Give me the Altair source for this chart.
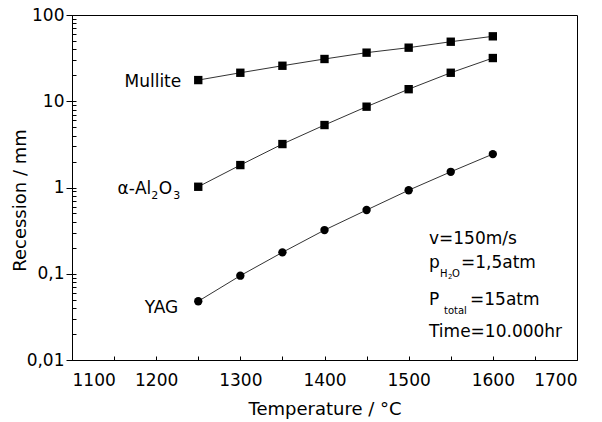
import altair as alt
import pandas as pd

# ---------------- data ----------------
temperatures = [1250, 1300, 1350, 1400, 1450, 1500, 1550, 1600]
mullite = [17.6, 21.4, 25.8, 30.9, 36.6, 41.8, 49.0, 56.6]
alumina = [1.02, 1.82, 3.19, 5.3, 8.65, 13.8, 21.4, 31.7]
yag = [0.048, 0.095, 0.177, 0.321, 0.548, 0.93, 1.52, 2.44]
series_names = ["Mullite", "Al2O3", "YAG"]
series_shapes = ["square", "square", "circle"]

x_major = [1100, 1200, 1300, 1400, 1500, 1600, 1700]
x_minor = [1100, 1150, 1200, 1250, 1300, 1350, 1400, 1450, 1500, 1550, 1600, 1650, 1700]
y_major = [0.01, 0.1, 1, 10, 100]
y_minor = [0.01, 0.02, 0.03, 0.04, 0.05, 0.06, 0.07, 0.08, 0.09,
           0.1, 0.2, 0.3, 0.4, 0.5, 0.6, 0.7, 0.8, 0.9,
           1, 2, 3, 4, 5, 6, 7, 8, 9,
           10, 20, 30, 40, 50, 60, 70, 80, 90, 100]

rows = []
for name, vals in zip(series_names, [mullite, alumina, yag]):
    for t, v in zip(temperatures, vals):
        rows.append({"series": name, "temp": t, "value": v})
df = pd.DataFrame(rows)

FONT = "DejaVu Sans"
W, H = 505, 345

x_scale = alt.Scale(domain=[1100, 1700], nice=False, zero=False)
y_scale = alt.Scale(type="log", domain=[0.01, 100], nice=False)

# main axes (labels, titles)
x_main = alt.X("temp:Q", scale=x_scale,
               axis=alt.Axis(values=x_major, title="Temperature / °C", orient="bottom",
                             ticks=False, labelPadding=12,
                             titleY=54, titleBaseline="alphabetic",
                             labelFont=FONT, labelFontSize=17, titleFont=FONT,
                             titleFontSize=18, titleFontWeight="normal",
                             labelColor="black", titleColor="black",
                             domainColor="black", grid=False, format="d"))
y_main = alt.Y("value:Q", scale=y_scale,
               axis=alt.Axis(values=y_major, title="Recession / mm", orient="left",
                             tickSize=6, tickColor="black", labelPadding=2,
                             titleX=-47, titleY=185, titleBaseline="alphabetic",
                             titleAngle=270, titleAlign="center",
                             labelExpr="replace(toString(datum.value), '.', ',')",
                             labelFont=FONT, labelFontSize=17, titleFont=FONT,
                             titleFontSize=18, titleFontWeight="normal",
                             labelColor="black", titleColor="black",
                             domainColor="black", grid=False))

lines = alt.Chart(df).mark_line(color="#333333", strokeWidth=1).encode(
    x=x_main, y=y_main, detail="series:N")

# inner tick axes (ticks pointing into the plot)
x_inner = alt.X("temp:Q", scale=x_scale,
                axis=alt.Axis(values=x_minor, orient="top", offset=-H, labels=False,
                              domain=False, tickSize=4, tickColor="black", title=None,
                              grid=False))
y_inner = alt.Y("value:Q", scale=y_scale,
                axis=alt.Axis(values=y_minor, orient="right", offset=-W, labels=False,
                              domain=False, tickSize=4, tickColor="black", title=None,
                              grid=False))

points = alt.Chart(df).mark_point(filled=True, size=70, color="black", opacity=1).encode(
    x=x_inner, y=y_inner,
    shape=alt.Shape("series:N", scale=alt.Scale(domain=series_names, range=series_shapes),
                    legend=None))

# ---------------- annotations ----------------
x_plain = alt.X("temp:Q", scale=x_scale, axis=None)
y_plain = alt.Y("value:Q", scale=y_scale, axis=None)


def anchored(text, temp, value, dx, dy, size, align="right", baseline="middle"):
    d = pd.DataFrame({"temp": [temp], "value": [value], "t": [text]})
    return alt.Chart(d).mark_text(dx=dx, dy=dy, fontSize=size, font=FONT, align=align,
                                  baseline=baseline, color="black").encode(
        x=x_plain, y=y_plain, text="t:N")


def placed(text, px, py, size):
    d = pd.DataFrame({"t": [text]})
    return alt.Chart(d).mark_text(fontSize=size, font=FONT, align="left",
                                  baseline="alphabetic", color="black").encode(
        x=alt.value(px), y=alt.value(py), text="t:N")


labels = [
    anchored("Mullite", temperatures[0], mullite[0], -17, 2, 17),
    anchored("YAG", temperatures[0], yag[0], -20, 7, 17),
    anchored("3", temperatures[0], alumina[0], -18, 9, 11),
    anchored("O", temperatures[0], alumina[0], -26, 2, 17),
    anchored("2", temperatures[0], alumina[0], -40, 9, 11),
    anchored("α-Al", temperatures[0], alumina[0], -47, 2, 17),
]

box = [
    placed("v=150m/s", 357, 229, 17),
    placed("p", 357, 253, 17),
    placed("H", 368, 262, 10),
    placed("2", 376, 264, 7),
    placed("O", 380, 262, 10),
    placed("=1,5atm", 389, 253, 17),
    placed("P", 357, 290, 17),
    placed("total", 372, 299, 10),
    placed("=15atm", 398, 290, 17),
    placed("Time=10.000hr", 357, 322, 17),
]

chart = alt.layer(lines, points, *labels, *box).resolve_axis(
    x="independent", y="independent"
).properties(
    width=W, height=H,
    autosize=alt.AutoSizeParams(type="none"),
    padding={"left": 64, "top": 7, "right": 17, "bottom": 62},
).configure_view(stroke="black", strokeWidth=1)

chart.save("out.html", embed_options={"renderer": "svg", "actions": False})
